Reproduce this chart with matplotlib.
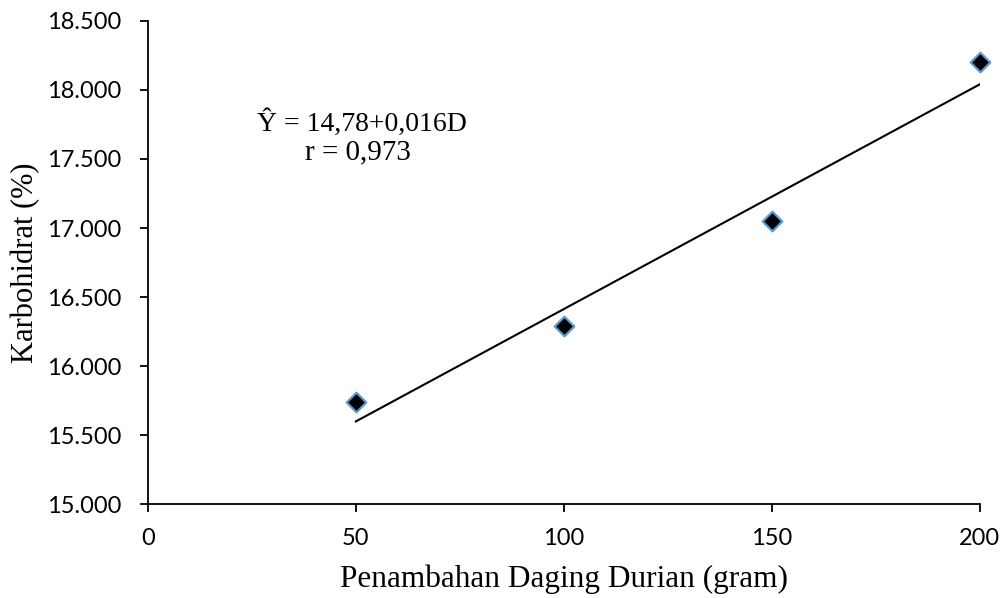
import numpy as np
import matplotlib
matplotlib.use("Agg")
import matplotlib.pyplot as plt
from matplotlib.ticker import FuncFormatter

# data
durian_g = [50, 100, 150, 200]
karbohidrat = [15.74, 16.29, 17.05, 18.20]
x_ticks = [0, 50, 100, 150, 200]
y_ticks = [15.0, 15.5, 16.0, 16.5, 17.0, 17.5, 18.0, 18.5]

# linear trend from the data
slope, intercept = np.polyfit(durian_g, karbohidrat, 1)
trend_x = np.array([min(durian_g), max(durian_g)])
trend_y = intercept + slope * trend_x

fig = plt.figure(figsize=(10.06, 5.98), dpi=100)
ax = fig.add_axes([0.147, 0.157, 0.827, 0.808])

ax.plot(trend_x, trend_y, color="black", linewidth=1.5, zorder=2)
ax.scatter(durian_g, karbohidrat, marker="D", s=100, color="black",
           edgecolors="#5b9bd5", linewidths=1.6, zorder=3, clip_on=False)

ax.set_xlim(0, 200)
ax.set_ylim(15.0, 18.5)
ax.set_xticks(x_ticks)
ax.set_yticks(y_ticks)
ax.yaxis.set_major_formatter(FuncFormatter(lambda v, p: f"{v:.3f}"))

tick_font = "Lato"
for lbl in ax.get_xticklabels() + ax.get_yticklabels():
    lbl.set_fontfamily(tick_font)
    lbl.set_fontsize(17)
ax.tick_params(axis="both", direction="out", length=6, width=1.3)
ax.tick_params(axis="y", pad=13)
ax.tick_params(axis="x", pad=11)

for side in ["top", "right"]:
    ax.spines[side].set_visible(False)
for side in ["left", "bottom"]:
    ax.spines[side].set_linewidth(1.3)

serif = "Liberation Serif"
ax.set_xlabel("Penambahan Daging Durian (gram)", fontfamily=serif, fontsize=22.5, va="top")
ax.set_ylabel("Karbohidrat (%)", fontfamily=serif, fontsize=22)
ax.xaxis.set_label_coords(0.5006, -0.126)
ax.yaxis.set_label_coords(-0.13, 0.5)

ax.text(51.5, 17.76, "Ŷ = 14,78+0,016D", fontfamily=serif, fontsize=20,
        ha="center", va="center")
ax.text(50.5, 17.55, "r = 0,973", fontfamily=serif, fontsize=21,
        ha="center", va="center")

fig.savefig("out.png", dpi=100)
